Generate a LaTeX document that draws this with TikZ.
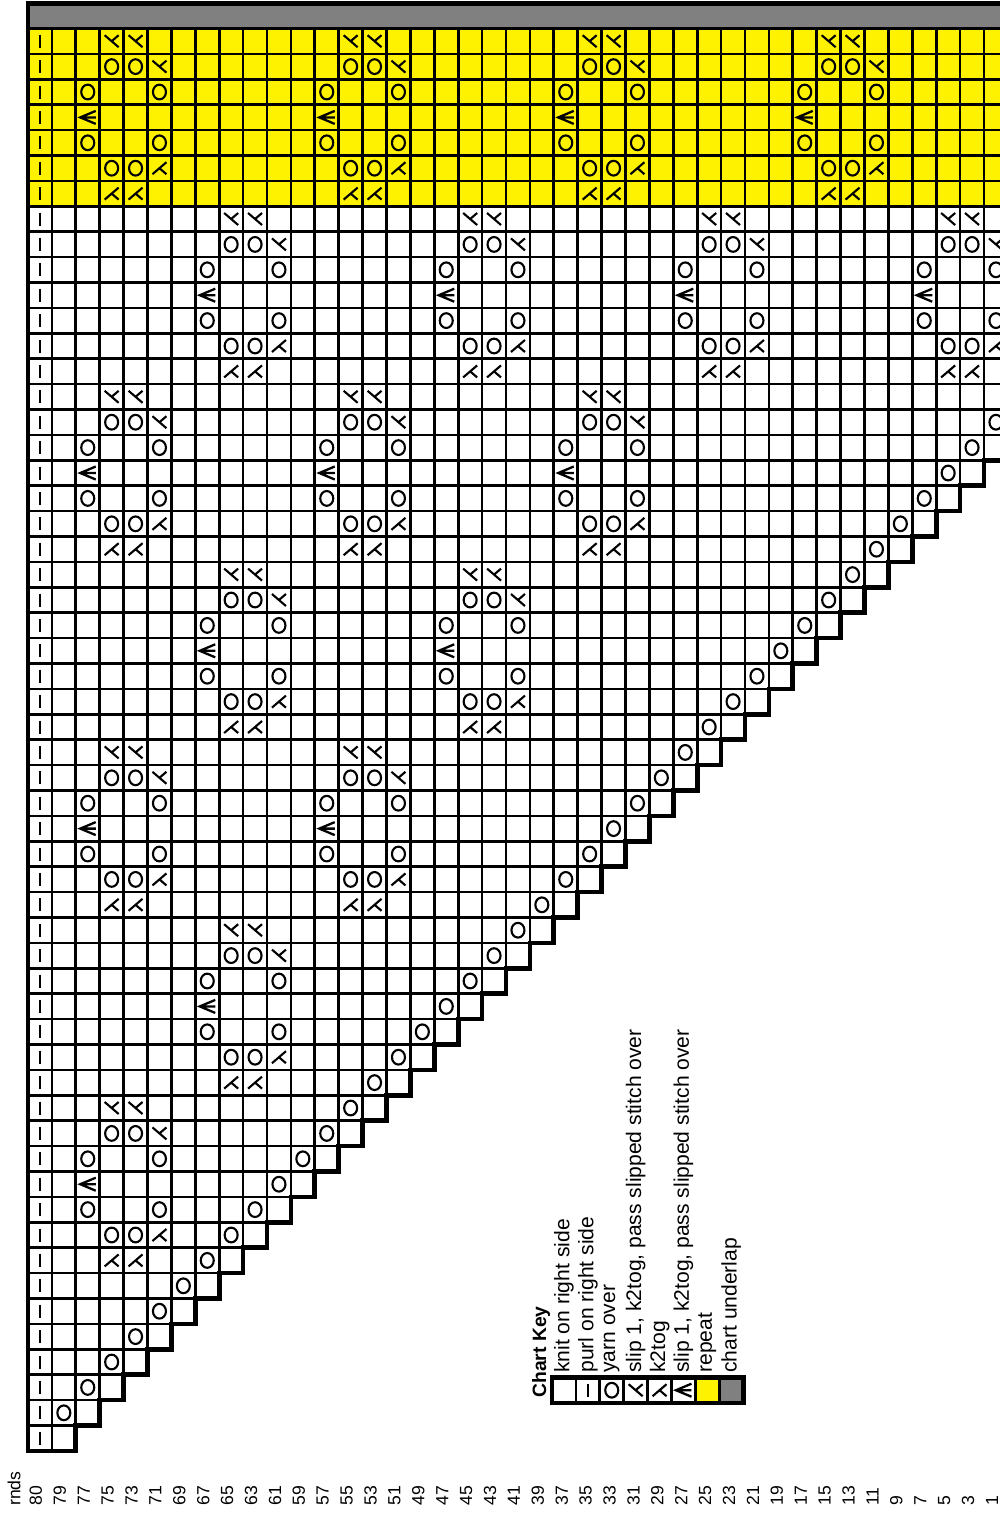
\documentclass[tikz,border=0pt]{standalone}
\usepackage{fontspec}
\setmainfont{Liberation Sans}
\newcommand\cellw{23.9}
\newcommand\cellh{25.4}
\newcommand\chartsym[3]{\pic at ({28+(#1+0.5)*\cellw},{28.5+(#2+0.5)*\cellh}) {#3};}
\newcommand\lacemotif[2]{%
  \chartsym{#2+1}{#1}{decup}\chartsym{#2+2}{#1}{decup}
  \chartsym{#2+1}{#1+1}{yarnover}\chartsym{#2+2}{#1+1}{yarnover}\chartsym{#2+3}{#1+1}{decup}
  \chartsym{#2}{#1+2}{yarnover}\chartsym{#2+3}{#1+2}{yarnover}
  \chartsym{#2}{#1+3}{dbldec}
  \chartsym{#2}{#1+4}{yarnover}\chartsym{#2+3}{#1+4}{yarnover}
  \chartsym{#2+1}{#1+5}{yarnover}\chartsym{#2+2}{#1+5}{yarnover}\chartsym{#2+3}{#1+5}{decdown}
  \chartsym{#2+1}{#1+6}{decdown}\chartsym{#2+2}{#1+6}{decdown}}
\tikzset{
  purl/.pic={\draw[line width=1.5pt] (0,-6.5) -- (0,6.5);},
  yarnover/.pic={\draw[line width=1.2pt] (0,0) ellipse [x radius=3.7pt,y radius=4.2pt];},
  decup/.pic={\draw[line width=1.2pt] (-7,-6) -- (7,6) (0,0) -- (7,-6);},
  decdown/.pic={\draw[line width=1.2pt] (-7,6) -- (7,-6) (0,0) -- (7,6);},
  dbldec/.pic={\draw[line width=1.3pt] (8,-6.5) -- (-7.5,0) -- (8,6.5) (-7.5,0) -- (8,0);},
  gridline/.style={line width=1.5pt},
  outline/.style={line width=2.7pt},
  rndlabel/.style={rotate=90,anchor=west,inner sep=0pt,font=\fontsize{10pt}{12pt}\selectfont},
  keylabel/.style={rotate=90,anchor=west,inner sep=0pt,font=\fontsize{12pt}{14pt}\selectfont}
}
\begin{document}
\begin{tikzpicture}[x=0.02cm,y=-0.02cm]
\useasboundingbox (0,0) rectangle (1000,1516);
\begin{scope}
\clip (0,0) rectangle (1000,1516);
\fill[gray] (28,3.5) rectangle (1012,28.5);
\fill[yellow] (28,28.5) rectangle (1012,{28.5+7*\cellh});
% grid
\foreach \r in {0,...,55}{
  \pgfmathtruncatemacro\lastc{min(40,56-\r)}
  \foreach \c in {0,...,\lastc}
    \draw[gridline] ({28+\c*\cellw},{28.5+\r*\cellh}) rectangle ++(\cellw,\cellh);
}
\draw[outline] (1012,3.5) -- (28,3.5) -- (28,{28.5+56*\cellh})
  \foreach \r in {55,...,16}{ -- ({28+(57-\r)*\cellw},{28.5+(\r+1)*\cellh}) -- ({28+(57-\r)*\cellw},{28.5+\r*\cellh}) };
% symbols
\foreach \r in {0,...,55} {\chartsym{0}{\r}{purl}}
\foreach \k in {1,...,40} {\chartsym{\k}{55-\k}{yarnover}}
\foreach \rr/\cc in {0/2,0/12,0/22,0/32,7/7,7/17,7/27,7/37,14/2,14/12,14/22,21/7,21/17,28/2,28/12,35/7,42/2}
  {\lacemotif{\rr}{\cc}}
\end{scope}
% round numbers
\node[rndlabel] (rnds) at (14,1506) {rnds};
\node[rndlabel] (rnd80) at ({24+0.5*\cellw},1506) {80};
\foreach \c in {1,...,40}{
  \pgfmathtruncatemacro\rnd{81-2*\c}
  \node[rndlabel] (rnd\rnd) at ({24+(\c+0.5)*\cellw},1506) {\rnd};
}
% key
\node[keylabel,font=\fontsize{11pt}{13pt}\selectfont\bfseries] (keytitle) at (541,1398) {Chart Key};
\fill[yellow] ({552+6*\cellw},1377.5) rectangle ++(\cellw,\cellh);
\fill[gray] ({552+7*\cellw},1377.5) rectangle ++(\cellw,\cellh);
\foreach \i in {1,...,7} \draw[gridline] ({552+\i*\cellw},1377.5) -- ++(0,\cellh);
\draw[outline] (552,1377.5) rectangle ++({8*\cellw},\cellh);
\foreach \i/\s in {1/purl,2/yarnover,3/decup,4/decdown,5/dbldec}
  \pic at ({552+(\i+0.5)*\cellw},{1377.5+0.5*\cellh}) {\s};
\foreach \i/\t in {0/knit on right side,1/purl on right side,2/yarn over,3/{slip 1, k2tog, pass slipped stitch over},4/k2tog,5/{slip 1, k2tog, pass slipped stitch over},6/repeat,7/chart underlap}
  \node[keylabel] (key\i) at ({552+(\i+0.5)*\cellw},1373) {\t};
\end{tikzpicture}
\end{document}
